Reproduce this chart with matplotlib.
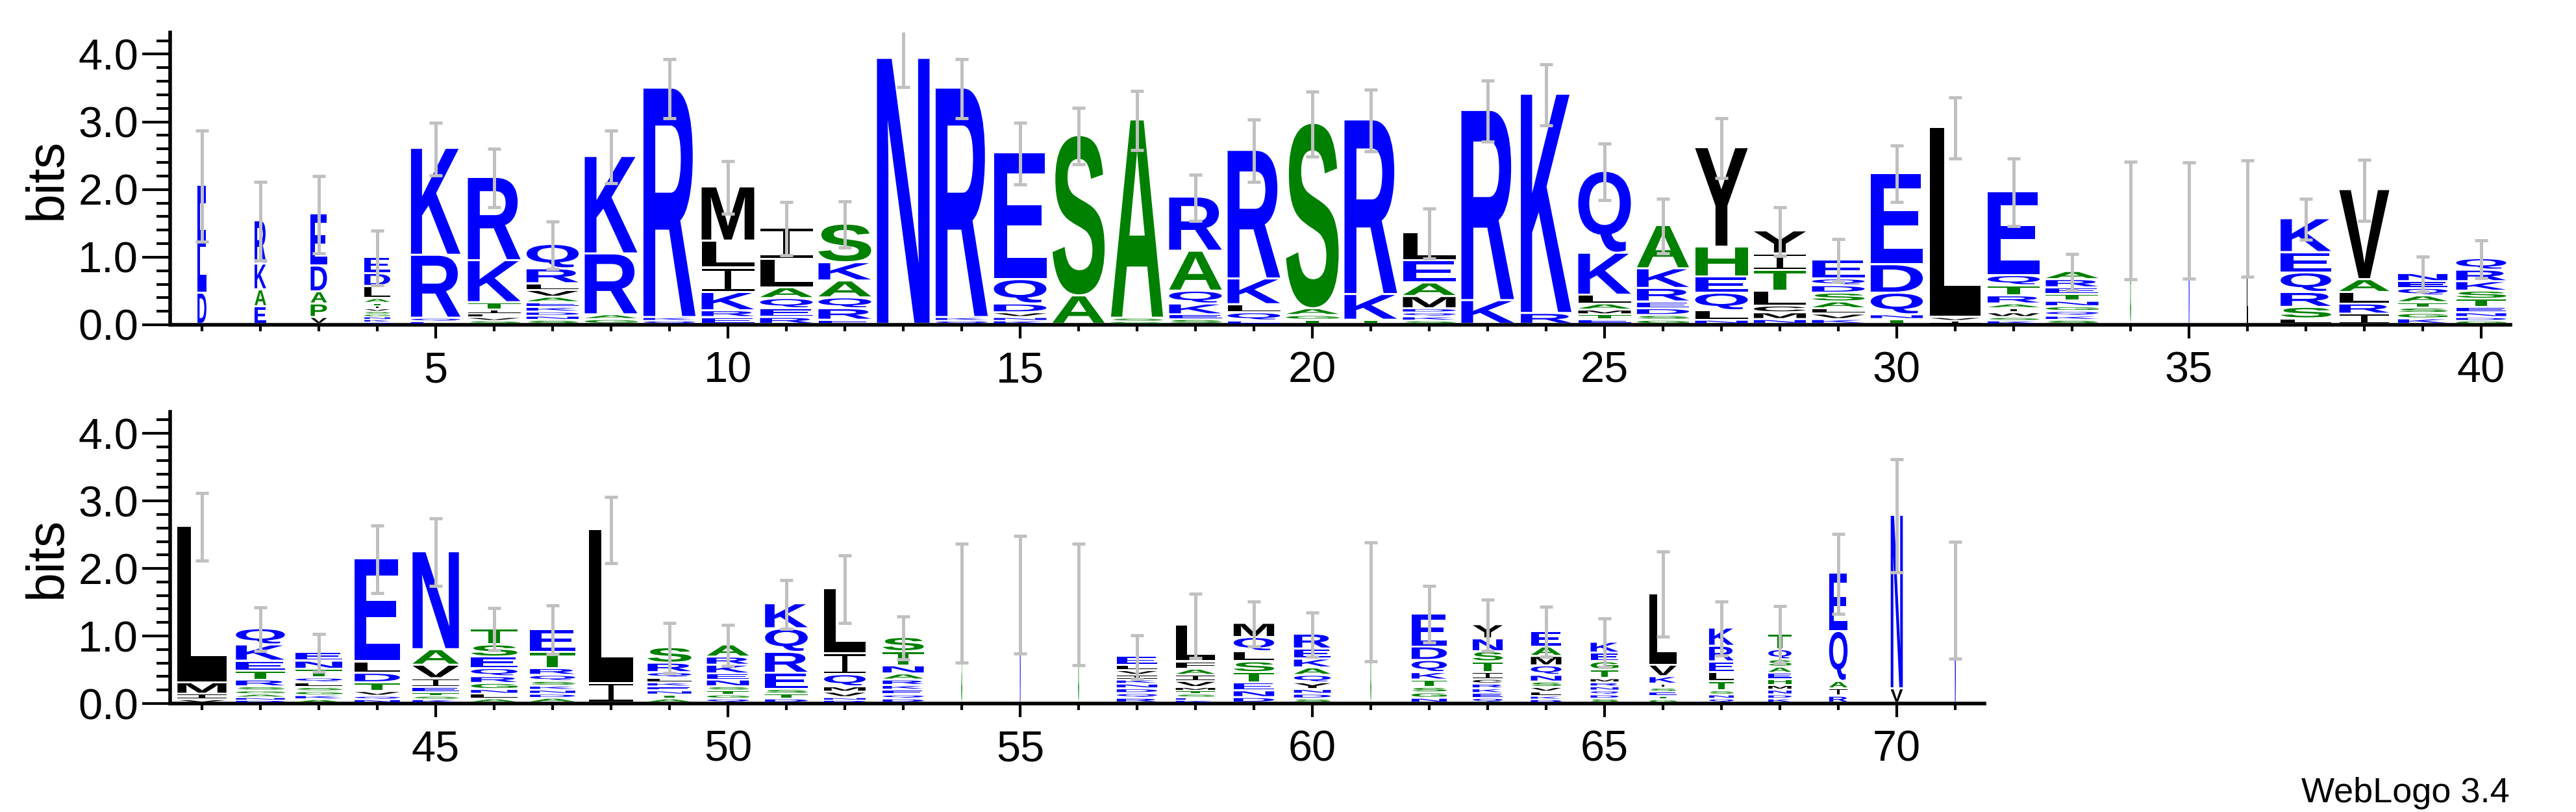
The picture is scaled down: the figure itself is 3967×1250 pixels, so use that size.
import matplotlib
matplotlib.use('Agg')
import matplotlib.pyplot as plt
from matplotlib.textpath import TextPath
from matplotlib.patches import PathPatch
from matplotlib.path import Path
from matplotlib.font_manager import FontProperties
from matplotlib.transforms import Affine2D
from matplotlib.ticker import MultipleLocator

# residues of each stack, listed top to bottom, with their heights in bits
stack_letters = [
    "ED", "RKAE", "EDAPV", "EDLATIVSGNKQ", "KRQE", "RKTILVS", "QRLVAEKDNS", "KRAG", "RKQ", "MLIKRE",
    "ILAQER", "SKAQRE", "N", "RKQ", "EQDVNK", "SA", "ASG", "RAQKES", "RKLQE", "SAGT",
    "RKT", "LEAMDQKS", "RK", "KR", "QKLAMTE", "AKREDSG", "YHEQLN", "YITLCMN", "EQDSALVK", "EDQNT",
    "LVI", "EQTRAIWSK", "ARETNGQKS", "G", "N", "L", "KEQRSL", "VALRI", "NEQATSGK", "QRKSTENDG",
    "LMIV", "QKETRSGAND", "ENTQLSGKA", "ELDTVQN", "NAVIETSK", "TSEQRGNLA", "ETRQSKNDA", "LI", "SRQLKENTA", "ARKENSTGQ",
    "KQRESTD", "LIQMVND", "STNARKEQD", "S", "N", "G", "ELVIKNDQR", "LFAIVMTSEK", "MQLSTEND", "REKAQYNDS",
    "G", "EDQKTSGN", "YNSTICRKEQ", "EAMQNSVLKD", "KEGTMRNQDS", "LVKISETG", "KRELTSNQ", "TQSAEHMNDK", "EQAIR", "NV",
    "N",
]
stack_bits = [
    [1.59, .46], [.64, .38, .25, .26], [.77, .38, .18, .20, .10],
    [.24, .19, .18, .07, .04, .04, .04, .04, .04, .04, .04, .03],
    [1.58, .93, .05, .04], [1.23, .62, .11, .06, .05, .05, .05],
    [.36, .22, .10, .10, .08, .07, .07, .06, .06, .06], [1.44, .90, .07, .07],
    [3.39, .05, .05], [.80, .40, .36, .27, .10, .10],
    [.46, .42, .16, .15, .13, .10], [.57, .27, .25, .16, .17, .06], [3.93],
    [3.39, .05, .05], [1.87, .36, .13, .07, .05, .05], [2.37, .42], [2.93, .05, .04],
    [.80, .59, .19, .16, .07, .07], [1.90, .38, .12, .12, .05], [2.74, .10, .07, .06],
    [2.58, .38, .06], [.41, .33, .20, .18, .06, .06, .06, .05], [2.81, .35], [3.24, .16],
    [1.21, .62, .13, .09, .07, .07, .07], [.64, .29, .20, .10, .10, .07, .06],
    [1.47, .44, .24, .26, .14, .06], [.34, .24, .31, .22, .10, .10, .07],
    [.28, .10, .11, .13, .10, .08, .08, .07], [1.35, .42, .32, .07, .07],
    [2.81, .05, .05], [1.24, .15, .15, .12, .07, .06, .07, .05, .05],
    [.12, .12, .10, .10, .08, .07, .07, .06, .06], [1.54], [1.54], [1.57],
    [.50, .30, .29, .22, .17, .08], [1.33, .19, .17, .15, .15],
    [.12, .10, .11, .10, .08, .08, .08, .08], [.17, .17, .14, .12, .12, .08, .07, .05, .05],
    [2.32, .17, .08, .05], [.24, .24, .15, .13, .10, .06, .05, .05, .04, .04],
    [.13, .12, .13, .07, .07, .06, .06, .06, .05], [1.53, .17, .14, .13, .07, .05, .05],
    [1.45, .23, .20, .13, .08, .05, .05, .05], [.24, .18, .17, .12, .10, .09, .07, .07, .06],
    [.34, .24, .10, .09, .07, .06, .06, .06, .07], [2.28, .29],
    [.23, .14, .08, .07, .06, .06, .06, .06, .06], [.18, .12, .13, .09, .10, .06, .06, .06, .06],
    [.37, .35, .31, .24, .07, .07, .06], [.96, .31, .18, .08, .08, .04, .04],
    [.21, .21, .12, .09, .08, .07, .07, .06, .06], [1.49], [1.61], [1.47],
    [.13, .08, .07, .07, .06, .07, .07, .07, .07], [.54, .11, .09, .09, .09, .05, .05, .05, .04, .04],
    [.21, .21, .15, .16, .15, .12, .10, .08], [.22, .15, .13, .11, .11, .10, .07, .07, .06],
    [1.51], [.49, .20, .18, .11, .11, .08, .08, .07],
    [.21, .19, .15, .16, .10, .07, .07, .07, .07, .07], [.23, .14, .14, .14, .10, .08, .07, .06, .05, .05],
    [.16, .13, .12, .13, .06, .06, .06, .06, .06, .06], [1.06, .17, .11, .06, .06, .06, .05, .05],
    [.27, .23, .16, .13, .14, .06, .06, .06], [.23, .15, .11, .09, .09, .09, .07, .07, .06, .06],
    [.86, .74, .11, .11, .10], [2.57, .21], [1.53],
]
# fraction of sequences without a gap (sets the stack width)
occupancy = [
    .17, .22, .31, .49, .94, 1, .99, 1, .99, 1,
    1, 1, 1, .99, 1, .99, .99, 1, 1, 1,
    1, 1, 1, .96, 1, .99, 1, .99, 1, .99,
    .96, .99, 1, .02, .02, .02, .96, .95, .94, .95,
    .93, .93, .89, .86, .88, .88, .86, .83, .83, .80,
    .81, .79, .78, .02, .02, .02, .77, .75, .77, .70,
    .02, .67, .57, .58, .53, .51, .47, .44, .35, .23,
    .025,
]
# error bar half-widths (bits)
err_bits = [
    .82, .58, .57, .40, .39, .43, .35, .39, .44, .39,
    .39, .34, .42, .44, .46, .42, .44, .34, .46, .48,
    .46, .37, .45, .45, .42, .40, .44, .36, .32, .42,
    .45, .50, .27, .87, .86, .86, .30, .45, .26, .28,
    .50, .32, .28, .50, .50, .31, .36, .49, .37, .30,
    .36, .50, .32, .88, .87, .90, .32, .48, .33, .33,
    .88, .42, .38, .37, .36, .63, .40, .42, .59, .84,
    .87,
]
positions = list(range(1, 72))

colors = {}
for c in "RKDENQ":
    colors[c] = '#0000ff'
for c in "SGHTAP":
    colors[c] = '#008000'
for c in "YVMCLFIW":
    colors[c] = '#000000'

letter_font = FontProperties(family='Liberation Sans', weight='bold')
text_font = 'Liberation Sans'


def glyph(ch):
    # unit-box glyph; the logo "I" has bars top and bottom
    if ch == 'I':
        t, s = 0.09, 0.06
        boxes = [(0, 0, 1, t), (0, 1 - t, 1, 1), (0.5 - s, t, 0.5 + s, 1 - t)]
        verts, codes = [], []
        for x0, y0, x1, y1 in boxes:
            verts += [(x0, y0), (x1, y0), (x1, y1), (x0, y1), (x0, y0)]
            codes += [Path.MOVETO, Path.LINETO, Path.LINETO, Path.LINETO, Path.CLOSEPOLY]
        return Path(verts, codes)
    tp = TextPath((0, 0), ch, size=1, prop=letter_font)
    bb = tp.get_extents()
    return Affine2D().translate(-bb.x0, -bb.y0).scale(1 / bb.width, 1 / bb.height).transform_path(tp)


glyphs = {c: glyph(c) for c in colors}


def draw_letter(ax, ch, x, y, w, h):
    gap = min(0.03, 0.45 * h)
    tr = Affine2D().scale(w, h - gap).translate(x - w / 2, y + gap)
    ax.add_patch(PathPatch(tr.transform_path(glyphs[ch]), facecolor=colors[ch], lw=0, zorder=3))


fig = plt.figure(figsize=(39.67, 12.5), dpi=100)
ax1 = fig.add_axes([266 / 3967, 0.6, 3600 / 3967, 0.36])
ax2 = fig.add_axes([266 / 3967, 1 - 1083 / 1250, 2790 / 3967, 449 / 1250])

for ax, first, last in [(ax1, 1, 40), (ax2, 41, 71)]:
    tops = []
    for p in range(first, last + 1):
        i = p - 1
        w = 0.9 * occupancy[i]
        y = 0.0
        for ch, h in zip(reversed(stack_letters[i]), reversed(stack_bits[i])):
            draw_letter(ax, ch, p, y, w, h)
            y += h
        tops.append(y)
    ax.errorbar(positions[first - 1:last], tops, yerr=err_bits[first - 1:last], fmt='none',
                ecolor='#c0c0c0', elinewidth=3.6, capsize=7, capthick=3.5, zorder=5)

    ax.set_xlim(first - 0.5, last + 0.5)
    ax.set_ylim(0, 4.32)
    for s in ['top', 'right']:
        ax.spines[s].set_visible(False)
    ax.spines['left'].set_position(('outward', 3))
    ax.spines['left'].set_linewidth(4)
    ax.spines['bottom'].set_linewidth(4)
    ax.xaxis.set_major_locator(MultipleLocator(5))
    ax.xaxis.set_minor_locator(MultipleLocator(1))
    ax.yaxis.set_minor_locator(MultipleLocator(0.2))
    ax.set_yticks([0, 1, 2, 3, 4])
    ax.set_yticklabels(['0.0', '1.0', '2.0', '3.0', '4.0'])
    ax.tick_params(axis='y', which='major', length=31, width=3, pad=4, labelsize=48)
    ax.tick_params(axis='y', which='minor', length=15, width=3)
    ax.tick_params(axis='x', which='major', length=15, width=3, pad=14, labelsize=48)
    ax.tick_params(axis='x', which='minor', length=7, width=3)
    for lab in ax.get_xticklabels() + ax.get_yticklabels():
        lab.set_family(text_font)
    ax.set_ylabel('bits', fontsize=58, family=text_font)

ax1.yaxis.set_label_coords((111 - 266) / 3600, 0.5)
ax2.yaxis.set_label_coords((111 - 266) / 2790, 0.5)

fig.text(3865 / 3967, 15 / 1250, 'WebLogo 3.4', ha='right', va='baseline', fontsize=39,
         family=['Liberation Sans Narrow', 'Liberation Sans'])

fig.savefig('out.png', dpi=100)
